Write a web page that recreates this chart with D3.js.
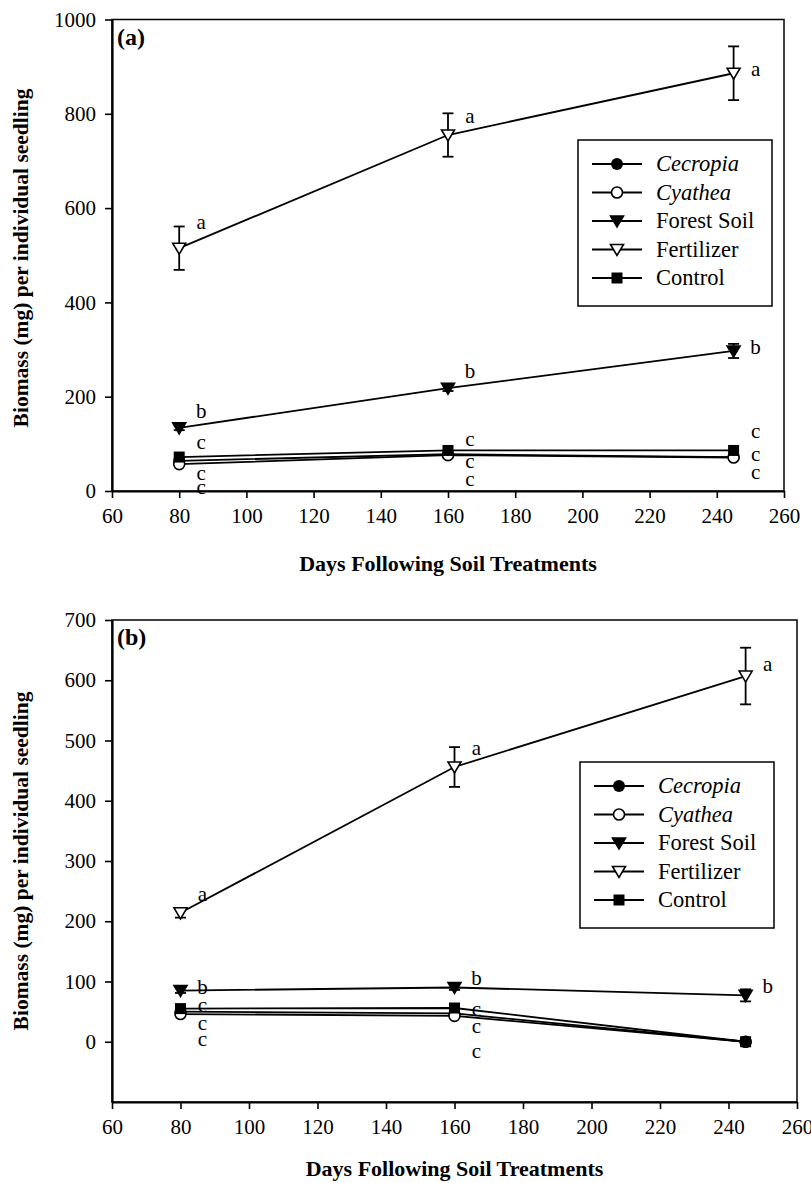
<!DOCTYPE html>
<html>
<head>
<meta charset="utf-8">
<title>Biomass per seedling</title>
<script src="https://d3js.org/d3.v7.min.js"></script>
<style>
  body { margin: 0; background: #fff; }
  svg text { font-family: "Liberation Serif", "Times New Roman", Times, "Nimbus Roman", "DejaVu Serif", serif; fill: #000; }
</style>
</head>
<body>
<script>
// sampling days
var days = [80, 160, 245];
var seriesNames = ["Cecropia", "Cyathea", "Forest Soil", "Fertilizer", "Control"];
var xTicks = [60, 80, 100, 120, 140, 160, 180, 200, 220, 240, 260];

// panel (a) values, mg per seedling
var cecropiaA = [64, 78, 72];
var cyatheaA = [57, 76, 71];
var forestA = [134, 218, 297];
var fertilizerA = [515, 755, 886];
var controlA = [72, 86, 86];
var forestErrA = [5, 6, 15];
var fertilizerErrA = [46, 46, 57];
var yTicksA = [0, 200, 400, 600, 800, 1000];

// panel (b) values
var cecropiaB = [50, 47, 0];
var cyatheaB = [46, 43, 0];
var forestB = [85, 90, 77];
var fertilizerB = [214, 456, 607];
var controlB = [55, 56, 0];
var forestErrB = [4, 4, 10];
var fertilizerErrB = [8, 33, 47];
var yTicksB = [0, 100, 200, 300, 400, 500, 600, 700];

// significance letters: [day, value, letter]
var lettersA = [
  [80, 568, "a"], [80, 168, "b"], [80, 102, "c"], [80, 36, "c"], [80, 6, "c"],
  [160, 794, "a"], [160, 252, "b"], [160, 108, "c"], [160, 62, "c"], [160, 25, "c"],
  [245, 894, "a"], [245, 303, "b"], [245, 126, "c"], [245, 78, "c"], [245, 39, "c"]
];
var lettersB = [
  [80, 244, "a"], [80, 90, "b"], [80, 60, "c"], [80, 30, "c"], [80, 3, "c"],
  [160, 486, "a"], [160, 104, "b"], [160, 53, "c"], [160, 25, "c"], [160, -17, "c"],
  [245, 625, "a"], [245, 91, "b"]
];

var serif = '"Liberation Serif", "Times New Roman", Times, "Nimbus Roman", "DejaVu Serif", serif';

var svg = d3.select("body").append("svg")
  .attr("width", 811)
  .attr("height", 1183)
  .attr("font-family", serif);

function marker(g, type, x, y) {
  if (type == "Cecropia") {
    g.append("circle").attr("cx", x).attr("cy", y).attr("r", 6).attr("fill", "#000");
  } else if (type == "Cyathea") {
    g.append("circle").attr("cx", x).attr("cy", y).attr("r", 5.5)
      .attr("fill", "#fff").attr("stroke", "#000").attr("stroke-width", 1.6);
  } else if (type == "Forest Soil" || type == "Fertilizer") {
    g.append("path")
      .attr("d", "M" + (x - 6.5) + "," + (y - 5) + "L" + (x + 6.5) + "," + (y - 5) + "L" + x + "," + (y + 6) + "Z")
      .attr("fill", type == "Forest Soil" ? "#000" : "#fff")
      .attr("stroke", "#000").attr("stroke-width", 1.6).attr("stroke-linejoin", "miter");
  } else {
    g.append("rect").attr("x", x - 5.5).attr("y", y - 5.5).attr("width", 11).attr("height", 11).attr("fill", "#000");
  }
}

function drawPanel(p) {
  var x = d3.scaleLinear().domain([60, 260]).range([p.left, p.right]);
  var y = d3.scaleLinear().domain(p.yDomain).range([p.bottom, p.top]);
  var g = svg.append("g");

  // frame
  g.append("rect")
    .attr("x", p.left).attr("y", p.top)
    .attr("width", p.right - p.left).attr("height", p.bottom - p.top)
    .attr("fill", "none").attr("stroke", "#000").attr("stroke-width", 1.5);

  var xAxis = d3.axisBottom(x).tickValues(xTicks).tickFormat(d3.format("d"))
    .tickSize(7).tickSizeOuter(0).tickPadding(10);
  var gx = g.append("g").attr("transform", "translate(0," + p.bottom + ")").call(xAxis);
  var yAxis = d3.axisLeft(y).tickValues(p.yTicks).tickFormat(d3.format("d"))
    .tickSize(7).tickSizeOuter(0).tickPadding(9);
  var gy = g.append("g").attr("transform", "translate(" + p.left + ",0)").call(yAxis);
  [gx, gy].forEach(function(a) {
    a.attr("font-family", serif).attr("font-size", 21);
    a.select(".domain").attr("stroke-width", 2.2);
    a.selectAll(".tick line").attr("stroke-width", 1.6);
  });

  // error bars
  p.errors.forEach(function(e) {
    e.vals.forEach(function(v, i) {
      var cx = x(days[i]);
      var lo = y(v - e.err[i]), hi = y(v + e.err[i]);
      g.append("line").attr("x1", cx).attr("x2", cx).attr("y1", lo).attr("y2", hi)
        .attr("stroke", "#000").attr("stroke-width", 1.8);
      [lo, hi].forEach(function(yy) {
        g.append("line").attr("x1", cx - 5.5).attr("x2", cx + 5.5).attr("y1", yy).attr("y2", yy)
          .attr("stroke", "#000").attr("stroke-width", 1.8);
      });
    });
  });

  var line = d3.line().x(function(d, i) { return x(days[i]); }).y(function(d) { return y(d); });
  p.series.forEach(function(vals, k) {
    g.append("path").datum(vals).attr("d", line)
      .attr("fill", "none").attr("stroke", "#000").attr("stroke-width", 1.8);
    vals.forEach(function(v, i) { marker(g, seriesNames[k], x(days[i]), y(v)); });
  });

  // letters
  g.selectAll(".letter").data(p.letters).enter().append("text")
    .attr("x", function(d) { return x(d[0]) + 22; })
    .attr("y", function(d) { return y(d[1]); })
    .attr("text-anchor", "middle").attr("dy", "0.3em")
    .style("font-size", "21px")
    .text(function(d) { return d[2]; });

  // panel label
  g.append("text").attr("x", p.left + 5).attr("y", p.top + 25)
    .style("font-size", "24px").style("font-weight", "bold").text(p.label);

  // legend
  var lg = g.append("g");
  lg.append("rect").attr("x", p.legX).attr("y", p.legY).attr("width", 194).attr("height", 166)
    .attr("fill", "#fff").attr("stroke", "#000").attr("stroke-width", 1.5);
  seriesNames.forEach(function(name, k) {
    var yy = p.legY + 24 + k * 28.5;
    lg.append("line").attr("x1", p.legX + 14).attr("x2", p.legX + 64).attr("y1", yy).attr("y2", yy)
      .attr("stroke", "#000").attr("stroke-width", 1.8);
    marker(lg, name, p.legX + 39, yy);
    lg.append("text").attr("x", p.legX + 78).attr("y", yy).attr("dy", "0.33em")
      .style("font-size", "22.5px")
      .style("font-style", k < 2 ? "italic" : "normal")
      .text(name);
  });

  // axis titles
  g.append("text")
    .attr("x", (p.left + p.right) / 2).attr("y", p.bottom + p.titleOff)
    .attr("text-anchor", "middle")
    .style("font-size", "22px").style("font-weight", "bold")
    .text("Days Following Soil Treatments");
  g.append("text")
    .attr("transform", "translate(28," + p.labelY + ") rotate(-90)")
    .attr("text-anchor", "middle")
    .style("font-size", "21.5px").style("font-weight", "bold")
    .text("Biomass (mg) per individual seedling");
}

drawPanel({
  left: 112, right: 784, top: 19.5, bottom: 491,
  yDomain: [0, 1000], yTicks: yTicksA, label: "(a)",
  series: [cecropiaA, cyatheaA, forestA, fertilizerA, controlA],
  errors: [{vals: forestA, err: forestErrA}, {vals: fertilizerA, err: fertilizerErrA}],
  letters: lettersA, legX: 578, legY: 140, labelY: 258, titleOff: 80
});

drawPanel({
  left: 112, right: 797, top: 620, bottom: 1102,
  yDomain: [-100, 700], yTicks: yTicksB, label: "(b)",
  series: [cecropiaB, cyatheaB, forestB, fertilizerB, controlB],
  errors: [{vals: forestB, err: forestErrB}, {vals: fertilizerB, err: fertilizerErrB}],
  letters: lettersB, legX: 580, legY: 762, labelY: 861, titleOff: 74
});
</script>
</body>
</html>
